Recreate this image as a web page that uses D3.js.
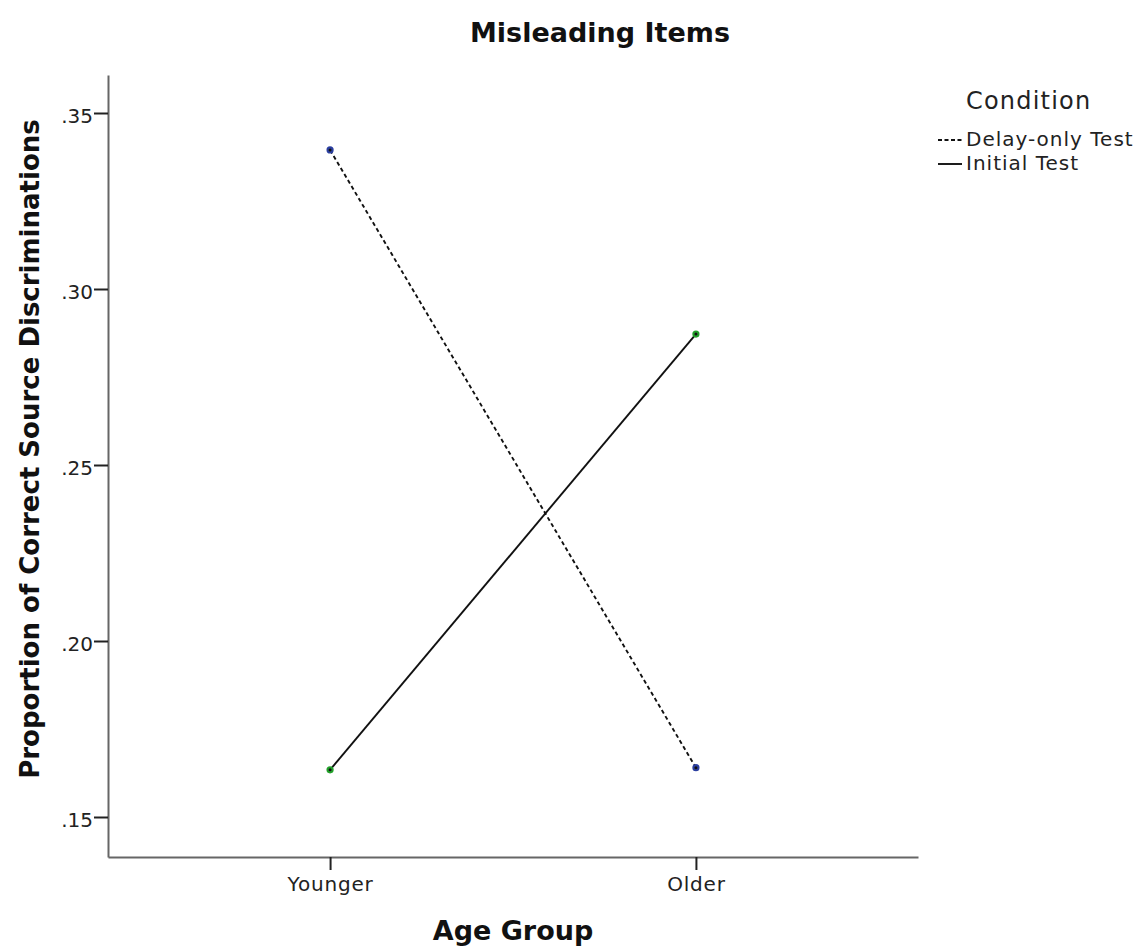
<!DOCTYPE html>
<html><head><meta charset="utf-8">
<script src="https://cdn.jsdelivr.net/npm/d3@7"></script>
<style>body{margin:0;background:#fff;} text{font-family:"DejaVu Sans",sans-serif;}</style>
</head><body>
<svg id="chart" width="1138" height="949"></svg>
<script>
const categories = ["Younger", "Older"];
const seriesNames = ["Delay-only Test", "Initial Test"];
const delayOnly = [0.3395, 0.1640];
const initialTest = [0.1634, 0.2872];
const yTicks = [0.15, 0.20, 0.25, 0.30, 0.35];
const tickLabels = [".15", ".20", ".25", ".30", ".35"];

(function(){
const svg = d3.select("#chart");
const mLeft = 108, mRight = 918, mTop = 75, mBottom = 857;

const x = d3.scalePoint().domain(categories).range([mLeft, mRight]).padding(0.607);
const y = d3.scaleLinear().domain([0.15 - 40/176*0.05, 0.35 + 38/176*0.05]).range([mBottom, mTop]);

const yAxis = svg.append("g").attr("transform", `translate(${mLeft},0)`)
  .call(d3.axisLeft(y).tickValues(yTicks).tickFormat((d,i)=>tickLabels[i]).tickSize(14).tickSizeOuter(0));
const xAxis = svg.append("g").attr("transform", `translate(0,${mBottom})`)
  .call(d3.axisBottom(x).tickSize(13).tickSizeOuter(0));
[yAxis, xAxis].forEach(a => {
  a.select(".domain").attr("stroke", "#666").attr("stroke-width", 2);
  a.selectAll(".tick line").attr("stroke", "#222").attr("stroke-width", 2);
  a.selectAll(".tick text").attr("fill", "#222").style("font-size", "20px");
});
yAxis.selectAll(".tick text").attr("x", -15).attr("dy", "0.45em");
xAxis.selectAll(".tick text").attr("y", 19).attr("dy", "0.75em").style("letter-spacing", "0.8px");

const series = [
  {name: seriesNames[0], values: delayOnly, dash: "4,3", color: "#2b3fa0"},
  {name: seriesNames[1], values: initialTest, dash: null, color: "#22a02a"}
];
const line = d3.line().x((d,i)=>x(categories[i])).y(d=>y(d));
series.forEach(s => {
  svg.append("path").datum(s.values).attr("d", line)
    .attr("fill", "none").attr("stroke", "#111").attr("stroke-width", 1.9)
    .attr("stroke-dasharray", s.dash);
  svg.selectAll(null).data(s.values).enter().append("circle")
    .attr("cx", (d,i)=>x(categories[i])).attr("cy", d=>y(d)).attr("r", 3.6)
    .attr("fill", s.color);
  svg.selectAll(null).data(s.values).enter().append("circle")
    .attr("cx", (d,i)=>x(categories[i])).attr("cy", d=>y(d)).attr("r", 1.5)
    .attr("fill", "#111");
});

svg.append("text").attr("x", 470).attr("y", 42).attr("text-anchor", "start")
  .style("font-size", "27px").style("font-weight", "bold").attr("fill", "#111").text("Misleading Items");
svg.append("text").attr("x", 513).attr("y", 940).attr("text-anchor", "middle")
  .style("font-size", "27px").style("font-weight", "bold").attr("fill", "#111").text("Age Group");
svg.append("text").attr("transform", "translate(39,449) rotate(-90)").attr("text-anchor", "middle")
  .style("font-size", "26px").style("font-weight", "bold").attr("fill", "#111").text("Proportion of Correct Source Discriminations");

const lg = svg.append("g");
lg.append("text").attr("x", 966).attr("y", 109).style("font-size", "24px").style("letter-spacing", "1.2px").attr("fill", "#222").text("Condition");
series.forEach((s, i) => {
  const yy = 140 + i * 24;
  lg.append("line").attr("x1", 938).attr("x2", 962).attr("y1", yy).attr("y2", yy)
    .attr("stroke", "#111").attr("stroke-width", 1.9).attr("stroke-dasharray", s.dash ? "4,2.5" : null);
  lg.append("text").attr("x", 966).attr("y", yy + 6).style("font-size", "20px").style("letter-spacing", "1px").attr("fill", "#222").text(s.name);
});
})();
</script>
</body></html>
